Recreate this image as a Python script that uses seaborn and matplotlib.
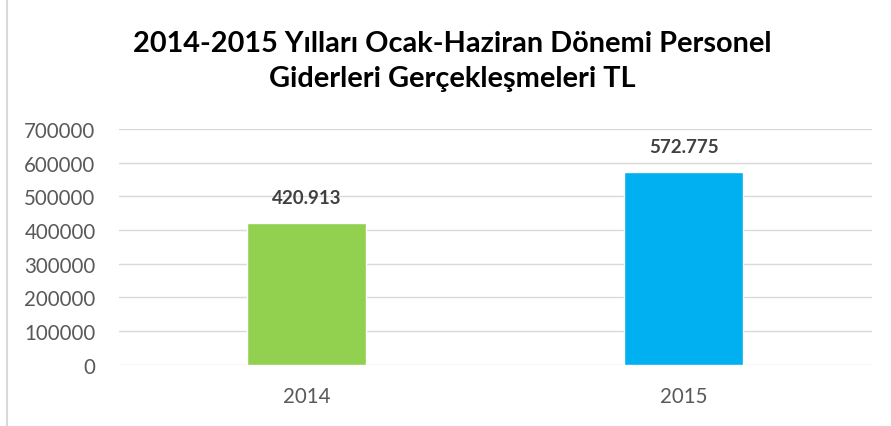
import matplotlib
matplotlib.use('Agg')
import matplotlib.pyplot as plt
from matplotlib.lines import Line2D
import pandas as pd
import seaborn as sns

years = ['2014', '2015']
values = [420913, 572775]
value_labels = ['420.913', '572.775']
bar_colors = ['#92D050', '#00B0F0']
title = '2014-2015 Yılları Ocak-Haziran Dönemi Personel\nGiderleri Gerçekleşmeleri TL'

data = pd.DataFrame({'year': years, 'value': values})

sns.set_style('white')
plt.rcParams['font.family'] = ['Lato', 'DejaVu Sans']

fig = plt.figure(figsize=(8.91, 4.27), dpi=100)
ax = fig.add_axes([0.133, 0.143, 0.846, 0.553])

sns.barplot(data=data, x='year', y='value', hue='year', palette=bar_colors,
            width=0.316, legend=False, ax=ax, saturation=1)

ax.set_ylim(0, 700000)
ax.set_yticks(range(0, 700001, 100000))
ax.set_yticklabels([str(v) for v in range(0, 700001, 100000)])
ax.grid(axis='y', color='#d9d9d9', linewidth=1)
ax.set_axisbelow(True)
for s in ax.spines.values():
    s.set_visible(False)
ax.tick_params(axis='both', length=0, labelsize=14.8, colors='#595959')
ax.tick_params(axis='y', pad=16.5)
ax.tick_params(axis='x', pad=15)
ax.set_xlabel('')
ax.set_ylabel('')

#value labels above bars
for i, (v, lab) in enumerate(zip(values, value_labels)):
    ax.annotate(lab, (i, v), xytext=(0, 18), textcoords='offset points',
                ha='center', va='center', fontsize=13.5, fontweight='bold', color='#404040')

fig.text(0.508, 0.856, title, ha='center', va='center', fontsize=20.8,
         fontweight='bold', color='black', linespacing=1.47)

#chart border on the left
fig.add_artist(Line2D([6.5 / 891, 6.5 / 891], [0, 1], color='#d9d9d9', linewidth=1.5))

fig.savefig('out.png', dpi=100)
